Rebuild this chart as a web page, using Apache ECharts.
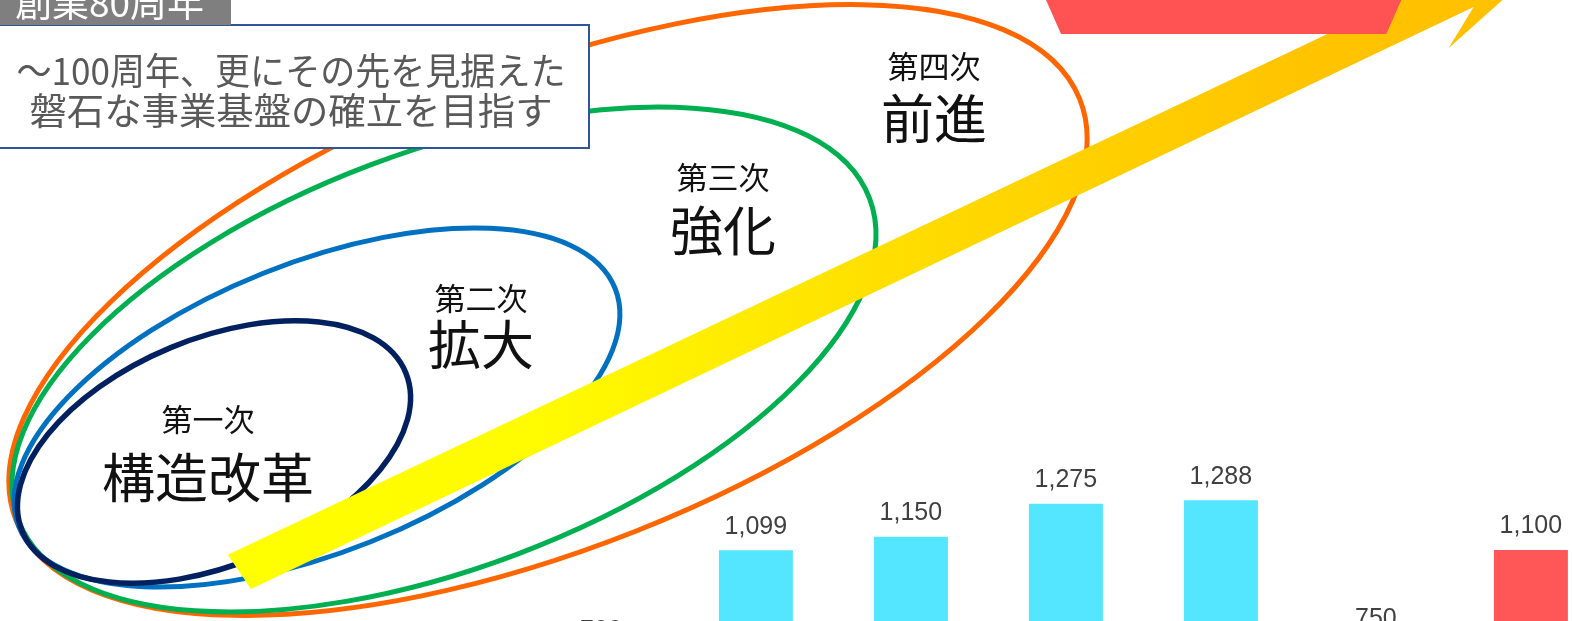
<!DOCTYPE html>
<html><head><meta charset="utf-8">
<script src="https://cdn.jsdelivr.net/npm/echarts@6/dist/echarts.min.js"></script>
<style>html,body{margin:0;padding:0;background:#fff;overflow:hidden}#c{width:1574px;height:621px}</style>
</head><body><div id="c"></div>
<script>
// ---- data ----
const categories = ['1', '2', '3', '4', '5', '6', '7'];
const values = [706, 1099, 1150, 1275, 1288, 750, 1100];
const barKinds = ['actual', 'actual', 'actual', 'actual', 'actual', 'actual', 'target'];
const phaseNumbers = ['第一次', '第二次', '第三次', '第四次'];
const phaseNames = ['構造改革', '拡大', '強化', '前進'];
const headlineLines = ['～100周年、更にその先を見据えた', '磐石な事業基盤の確立を目指す'];
const anniversaryLabel = '創業80周年';

// ---- layout / style ----
const kindColor = { actual: '#55E6FF', target: '#FF5757' };
const ellipses = [
  { cx: 548, cy: 310, rx: 572, ry: 238, deg: 21.6, color: '#FF6600', w: 5 },
  { cx: 444, cy: 359.5, rx: 455, ry: 208, deg: 20.7, color: '#00B050', w: 5 },
  { cx: 317, cy: 407.5, rx: 321, ry: 144.6, deg: 21.8, color: '#0070C0', w: 5 },
  { cx: 214, cy: 452, rx: 207.5, ry: 113, deg: 22.5, color: '#002060', w: 5.5 }
];
const phasePos = [
  { x: 208, y1: 419, y2: 478 },
  { x: 481, y1: 298, y2: 345 },
  { x: 723, y1: 177, y2: 231 },
  { x: 934, y1: 66, y2: 119 }
];
const sx = 1574 / 1568, sy = 621 / 619;
const arrowPts = [[227, 553], [250, 587], [1468, 7], [1443, 48], [1564, -60], [1403, -33], [1453, -28]]
  .map(p => [p[0] * sx, p[1] * sy]);
const bannerPts = [[1042, 0], [1057, 34], [1381, 34], [1396, 0]].map(p => [p[0] * sx, p[1] * sy]);
const textTargets = [549, 523];

const chart = echarts.init(document.getElementById('c'), null, { renderer: 'canvas' });
const cjk = '"Noto Sans CJK JP", "Noto Sans", sans-serif';
const measureCtx = document.createElement('canvas').getContext('2d');
function textWidth(t, font) { measureCtx.font = font; return measureCtx.measureText(t).width; }

const graphics = [];
ellipses.forEach(e => graphics.push({
  type: 'ellipse', x: e.cx, y: e.cy, rotation: e.deg * Math.PI / 180,
  shape: { cx: 0, cy: 0, rx: e.rx, ry: e.ry },
  style: { fill: null, stroke: e.color, lineWidth: e.w }, z: 1
}));
graphics.push({
  type: 'polygon', shape: { points: arrowPts }, z: 2,
  style: { fill: new echarts.graphic.LinearGradient(0, 0, 1, 0, [
    { offset: 0, color: '#FFFF00' }, { offset: 0.25, color: '#FFFA00' },
    { offset: 0.55, color: '#FFD800' }, { offset: 0.8, color: '#FFC400' }, { offset: 1, color: '#FFBF00' }]) }
});
graphics.push({ type: 'polygon', z: 3, shape: { points: bannerPts }, style: { fill: '#FF5353' } });
phaseNumbers.forEach((t, i) => {
  const p = phasePos[i];
  graphics.push({ type: 'text', x: p.x, y: p.y1, z: 4,
    style: { text: t, fill: '#111', font: '31px ' + cjk, align: 'center', verticalAlign: 'middle', textAlign: 'center', textVerticalAlign: 'middle' } });
  graphics.push({ type: 'text', x: p.x, y: p.y2, z: 4,
    style: { text: phaseNames[i], fill: '#111', font: '53px ' + cjk, align: 'center', verticalAlign: 'middle', textAlign: 'center', textVerticalAlign: 'middle' } });
});
// headline box
graphics.push({ type: 'rect', z: 5, shape: { x: -3, y: 25, width: 592, height: 123 },
  style: { fill: '#fff', stroke: '#2F5597', lineWidth: 2 } });
const hFont = '37px ' + cjk;
headlineLines.forEach((t, i) => {
  const w = textWidth(t, hFont);
  graphics.push({ type: 'text', z: 6, x: 291, y: 71 + i * 40, scaleX: textTargets[i] / w,
    style: { text: t, fill: '#595959', font: hFont, align: 'center', verticalAlign: 'middle', textAlign: 'center', textVerticalAlign: 'middle' } });
});
graphics.push({ type: 'rect', z: 6, shape: { x: 0, y: 0, width: 231, height: 25 }, style: { fill: '#7F7F7F' } });
graphics.push({ type: 'text', z: 7, x: 15, y: 21,
  style: { text: anniversaryLabel, fill: '#fff', font: '37px ' + cjk, align: 'left', verticalAlign: 'bottom', textAlign: 'left', textVerticalAlign: 'bottom' } });

chart.setOption({
  animation: false,
  backgroundColor: '#ffffff',
  grid: { left: 523.4, top: 470.5, width: 1085, height: 371, containLabel: false, outerBoundsMode: 'none' },
  xAxis: { type: 'category', data: categories, axisLine: { show: false }, axisTick: { show: false }, axisLabel: { show: false } },
  yAxis: { type: 'value', min: 0, max: 1400, splitLine: { show: false }, axisLabel: { show: false }, axisLine: { show: false }, axisTick: { show: false } },
  series: [{
    type: 'bar', barWidth: 74,
    data: values.map((v, i) => ({ value: v, itemStyle: { color: kindColor[barKinds[i]] } })),
    label: { show: true, position: 'top', distance: 11, color: '#404040', fontSize: 25,
      fontFamily: '"Liberation Sans Narrow", "Liberation Sans", sans-serif',
      formatter: p => p.value.toLocaleString('en-US') }
  }],
  graphic: { elements: graphics }
});
</script></body></html>
